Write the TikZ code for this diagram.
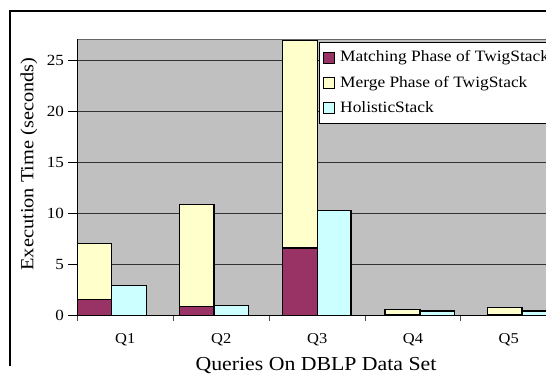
\documentclass[tikz,border=0pt]{standalone}
\usepackage{fontspec}
\setmainfont{Liberation Serif}[FakeStretch=1.1]
\definecolor{plum}{HTML}{993366}
\definecolor{cream}{HTML}{FFFFCC}
\definecolor{aqua}{HTML}{CCFFFF}
\definecolor{plotgray}{HTML}{C0C0C0}
\begin{document}
\begin{tikzpicture}[x=1pt,y=-1pt,
  barbox/.style={draw=black,line width=1.1pt},
  gridln/.style={draw=black!80,line width=0.8pt},
  ticklbl/.style={font=\fontsize{15.5}{18}\selectfont,inner sep=0pt},
  legtxt/.style={font=\fontsize{15.8}{18}\selectfont,inner sep=0pt,anchor=base west},
  legmark/.style={draw=black,line width=1pt}]
\useasboundingbox (0,0) rectangle (546,377);
\clip (0,0) rectangle (546,377);
% chart frame
\draw[line width=1.8pt] (10,366) -- (10,11) -- (560,11);
% plot area
\fill[plotgray] (77.3,39.3) rectangle (570,315.3);
\draw[black!60,line width=0.9pt] (77.3,39.3) -- (570,39.3);
\foreach \y in {264.3,213.3,162.3,111.3,60.3}
  \draw[gridln] (77.3,\y) -- (570,\y);
% y ticks and labels
\foreach \y/\t in {315.3/0,264.3/5,213.3/10,162.3/15,111.3/20,60.3/25}{
  \draw[line width=0.8pt] (68,\y) -- (77.3,\y);
  \node[ticklbl,anchor=east] at (64,\y) {\t};
}
% x ticks
\foreach \x in {77.3,173.3,269.3,365,460.7}
  \draw[line width=0.8pt,black!70] (\x,315.3) -- (\x,321);
% bars Q1
\draw[barbox,fill=plum] (77.3,315.3) rectangle (111.7,299.3);
\draw[barbox,fill=cream] (77.3,299.3) rectangle (111.7,243.3);
\draw[barbox,fill=aqua] (111.7,315.3) rectangle (146.3,285.3);
% Q2
\draw[barbox,fill=plum] (179.3,315.3) rectangle (214,306.7);
\draw[barbox,fill=cream] (179.3,306.7) rectangle (214,204.3);
\draw[barbox,fill=aqua] (214,315.3) rectangle (248.7,305.3);
% Q3
\draw[barbox,fill=plum] (282.7,315.3) rectangle (317.3,248);
\draw[barbox,fill=cream] (282.7,248) rectangle (317.3,40.2);
\draw[barbox,fill=aqua] (317.3,315.3) rectangle (351,210.3);
% Q4
\draw[barbox,fill=plum] (385,315.3) rectangle (420,314.3);
\draw[barbox,fill=cream] (385,314.3) rectangle (420,309.3);
\draw[barbox,fill=aqua] (420,315.3) rectangle (454.3,311);
% Q5
\draw[barbox,fill=plum] (487.3,315.3) rectangle (522,314.3);
\draw[barbox,fill=cream] (487.3,314.3) rectangle (522,307.7);
\draw[barbox,fill=aqua] (522,315.3) rectangle (556.5,311);
% x axis
\draw[line width=1pt] (77.3,315.3) -- (570,315.3);
\draw[line width=1pt] (77.3,39.3) -- (77.3,315.3);
% category labels
\foreach \x/\t in {125.3/Q1,221.3/Q2,317.2/Q3,413/Q4,508.7/Q5}
  \node[font=\fontsize{15}{18}\selectfont,inner sep=0pt,anchor=base] at (\x,343.3) {\t};
% axis titles
\node[font=\fontsize{19.8}{22}\selectfont,inner sep=0pt,anchor=base] (xt) at (316,370) {Queries On DBLP Data Set};
\node[font=\fontsize{18.5}{22}\selectfont,inner sep=0pt,anchor=base,rotate=90] (yt) at (33.3,164) {Execution Time (seconds)};
% legend
\draw[fill=white,line width=1pt] (319.3,42.7) rectangle (570,123.3);
\draw[legmark,fill=plum] (323.5,52.7) rectangle (334.5,63.3);
\draw[legmark,fill=cream] (323.5,78) rectangle (334.5,88.6);
\draw[legmark,fill=aqua] (323.5,103) rectangle (334.5,113.6);
\node[legtxt] (l1) at (340,62) {Matching Phase of TwigStack};
\node[legtxt] (l2) at (340,87.3) {Merge Phase of TwigStack};
\node[legtxt] (l3) at (340,112.3) {HolisticStack};
\end{tikzpicture}
\end{document}
